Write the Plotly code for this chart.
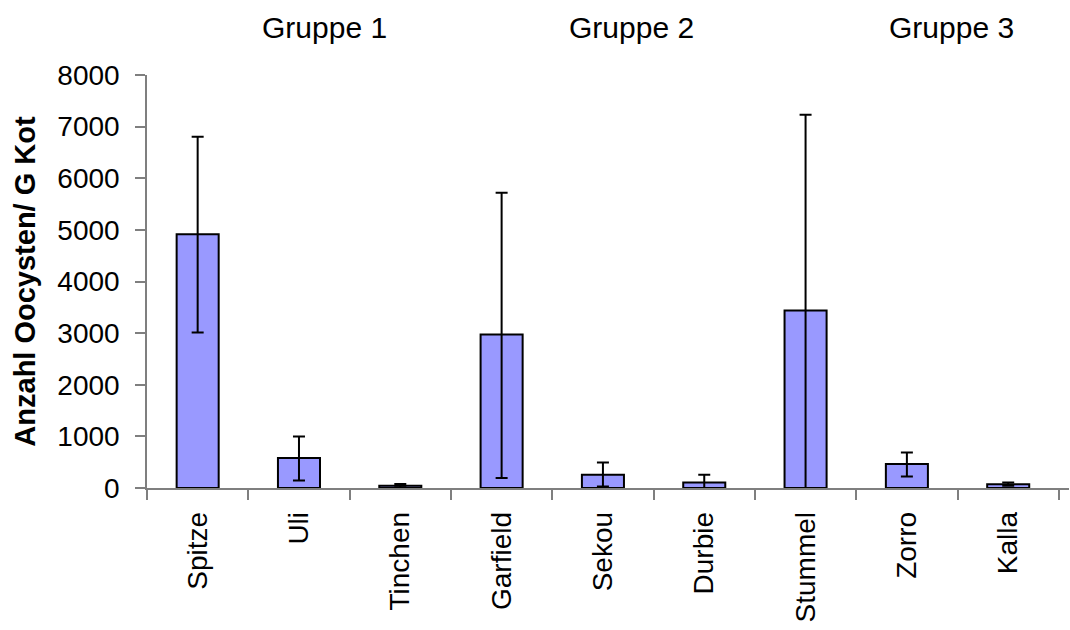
import plotly.graph_objects as go

categories = ["Spitze", "Uli", "Tinchen", "Garfield", "Sekou", "Durbie", "Stummel", "Zorro", "Kalla"]
values = [4915, 580, 45, 2975, 257, 108, 3437, 464, 75]
err_plus = [1890, 420, 32, 2745, 238, 150, 3795, 225, 33]
err_minus = [1905, 433, 30, 2780, 226, 108, 3437, 240, 30]

groups = ["Gruppe 1", "Gruppe 2", "Gruppe 3"]
group_x = [0.192, 0.526, 0.8725]

y_ticks = [0, 1000, 2000, 3000, 4000, 5000, 6000, 7000, 8000]

FONT = "Liberation Sans, Arial, sans-serif"
AXIS_COL = "#7f7f7f"

fig = go.Figure()
fig.add_trace(go.Bar(
    x=categories,
    y=values,
    marker=dict(color="#9999FF", line=dict(color="black", width=2)),
    error_y=dict(type="data", symmetric=False, array=err_plus, arrayminus=err_minus,
                 color="black", thickness=2, width=6),
    showlegend=False,
))

for g, gx in zip(groups, group_x):
    fig.add_annotation(text=g, x=gx, y=1.116, xref="paper", yref="paper",
                       xanchor="center", yanchor="middle", showarrow=False,
                       font=dict(family=FONT, size=30, color="black"))

fig.update_layout(
    width=1070, height=630,
    margin=dict(l=147, r=1, t=75, b=142),
    paper_bgcolor="white", plot_bgcolor="white",
    bargap=0.585,
    font=dict(family=FONT, size=28, color="black"),
)

fig.update_xaxes(
    type="category", range=[-0.5, 8.6],
    showline=True, linecolor=AXIS_COL, linewidth=1.5,
    ticks="outside", tickson="boundaries", ticklen=10, tickcolor=AXIS_COL, tickwidth=1.5,
    tickangle=-90, tickfont=dict(family=FONT, size=28, color="black"),
    ticklabelstandoff=11,
    showgrid=False, zeroline=False,
)

fig.update_yaxes(
    range=[0, 8000], tickvals=y_ticks,
    showline=True, linecolor=AXIS_COL, linewidth=1.5,
    ticks="outside", ticklen=10, tickcolor=AXIS_COL, tickwidth=1.5,
    tickfont=dict(family=FONT, size=28, color="black"),
    ticklabelstandoff=10,
    showgrid=False, zeroline=False,
    title=dict(text="<b>Anzahl Oocysten/ G Kot</b>", standoff=13,
               font=dict(family=FONT, size=29, color="black")),
)

fig.write_html("out.html")
